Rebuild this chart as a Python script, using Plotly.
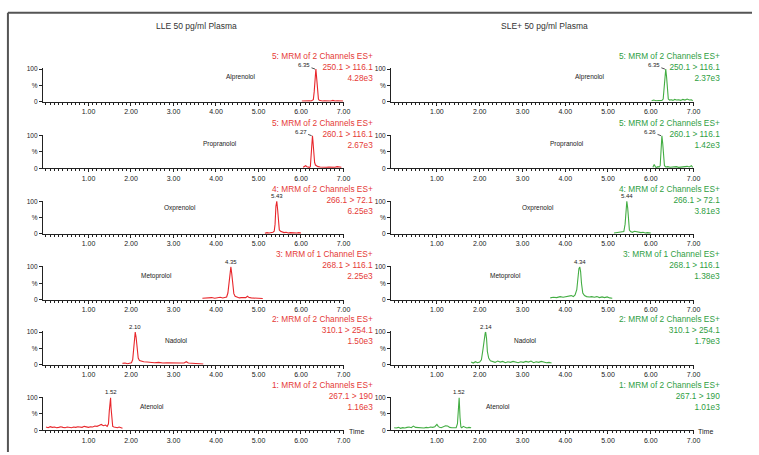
import plotly.graph_objects as go

W, H = 759, 455

# ---------------- data ----------------
compounds = ["Alprenolol", "Propranolol", "Oxprenolol", "Metoprolol", "Nadolol", "Atenolol"]
column_titles = ["LLE 50 pg/ml Plasma", "SLE+ 50 pg/ml Plasma"]
x_tick_labels = ["1.00", "2.00", "3.00", "4.00", "5.00", "6.00", "7.00"]
x_tick_values = [1, 2, 3, 4, 5, 6, 7]

mrm_functions = ["5: MRM of 2 Channels ES+", "5: MRM of 2 Channels ES+", "4: MRM of 2 Channels ES+",
                 "3: MRM of 1 Channel ES+", "2: MRM of 2 Channels ES+", "1: MRM of 2 Channels ES+"]
transitions = ["250.1 > 116.1", "260.1 > 116.1", "266.1 > 72.1", "268.1 > 116.1", "310.1 > 254.1", "267.1 > 190"]
lle_intensity = ["4.28e3", "2.67e3", "6.25e3", "2.25e3", "1.50e3", "1.16e3"]
sle_intensity = ["2.37e3", "1.42e3", "3.81e3", "1.38e3", "1.79e3", "1.01e3"]
lle_rt = ["6.35", "6.27", "5.43", "4.35", "2.10", "1.52"]
sle_rt = ["6.35", "6.26", "5.44", "4.34", "2.14", "1.52"]

# LLE traces
lle_alprenolol_t = [6.02,6.08,6.14,6.20,6.24,6.27,6.29,6.31,6.33,6.35,6.37,6.39,6.41,6.43,6.46,6.50,6.55,6.60,6.65,6.70,6.75,6.80,6.85,6.90,6.95,6.99]
lle_alprenolol_y = [2,3,2,3,2,3,6,30,80,100,70,25,8,4,3,2,3,2,3,2,4,2,3,2,3,2]
lle_propranolol_t = [6.05,6.08,6.11,6.14,6.17,6.20,6.22,6.24,6.26,6.27,6.28,6.30,6.32,6.34,6.37,6.40,6.45,6.50,6.55,6.60,6.65,6.70,6.75,6.80,6.85,6.90,6.95]
lle_propranolol_y = [3,6,8,5,3,3,5,40,92,100,85,40,18,10,7,5,4,3,4,3,4,3,4,3,5,4,3]
lle_oxprenolol_t = [5.15,5.20,5.25,5.30,5.34,5.37,5.39,5.41,5.43,5.45,5.47,5.49,5.52,5.56,5.60,5.65,5.70,5.75,5.80,5.85,5.90,5.95,6.00]
lle_oxprenolol_y = [2,4,3,4,5,8,30,85,100,75,30,12,8,5,4,5,3,4,3,4,3,4,3]
lle_metoprolol_t = [3.68,3.75,3.82,3.90,3.97,4.04,4.10,4.16,4.21,4.25,4.28,4.31,4.33,4.35,4.37,4.39,4.42,4.45,4.50,4.55,4.60,4.65,4.70,4.74,4.78,4.83,4.90,4.96,5.03,5.10]
lle_metoprolol_y = [4,5,4,6,4,5,7,5,6,8,20,65,95,100,80,45,18,10,7,5,6,5,6,10,6,5,4,5,4,3]
lle_nadolol_t = [1.80,1.86,1.92,1.97,2.01,2.04,2.07,2.09,2.10,2.12,2.14,2.17,2.20,2.25,2.30,2.38,2.46,2.55,2.65,2.75,2.85,2.95,3.05,3.15,3.25,3.30,3.35,3.45,3.55,3.65,3.70]
lle_nadolol_y = [4,5,3,5,6,15,55,92,100,85,45,20,13,10,9,8,7,6,7,5,6,5,4,5,5,9,5,4,3,3,2]
lle_atenolol_t = [0.00,0.05,0.10,0.15,0.20,0.25,0.30,0.35,0.40,0.45,0.50,0.55,0.60,0.65,0.70,0.75,0.80,0.85,0.90,0.95,1.00,1.05,1.10,1.15,1.20,1.25,1.30,1.35,1.40,1.44,1.47,1.49,1.51,1.52,1.53,1.55,1.57,1.60,1.64,1.68,1.72,1.76,1.80]
lle_atenolol_y = [10,8,11,9,10,8,9,11,9,8,10,9,8,10,9,11,10,9,12,10,9,11,10,13,12,15,18,14,16,12,20,60,95,100,70,25,12,10,9,8,10,7,6]

# SLE+ traces
sle_alprenolol_t = [6.02,6.07,6.12,6.17,6.22,6.26,6.29,6.31,6.33,6.35,6.37,6.39,6.41,6.44,6.48,6.52,6.56,6.60,6.65,6.70,6.75,6.80,6.85,6.90,6.95,6.98]
sle_alprenolol_y = [3,5,3,4,3,4,8,45,90,100,75,25,8,5,6,4,7,5,6,4,7,5,8,5,6,3]
sle_propranolol_t = [6.05,6.08,6.11,6.14,6.17,6.20,6.22,6.24,6.26,6.28,6.30,6.32,6.35,6.40,6.45,6.50,6.55,6.60,6.65,6.70,6.75,6.80,6.85,6.90,6.95,6.98]
sle_propranolol_y = [3,12,4,3,5,4,8,70,100,75,25,8,4,5,3,4,3,5,3,4,3,4,6,4,8,3]
sle_oxprenolol_t = [5.14,5.19,5.24,5.29,5.33,5.37,5.40,5.42,5.44,5.46,5.48,5.50,5.53,5.57,5.62,5.67,5.72,5.77,5.82,5.87,5.92,5.97,6.00]
sle_oxprenolol_y = [3,4,5,4,6,7,30,88,100,80,30,12,7,5,8,6,5,4,5,3,4,3,3]
sle_metoprolol_t = [3.65,3.72,3.80,3.88,3.95,4.02,4.08,4.14,4.19,4.23,4.27,4.30,4.32,4.34,4.36,4.38,4.41,4.45,4.50,4.56,4.62,4.68,4.74,4.80,4.86,4.92,4.98,5.04,5.10]
sle_metoprolol_y = [5,7,6,9,7,9,10,12,9,14,30,75,95,100,85,50,20,12,9,8,9,7,9,6,8,6,8,5,4]
sle_nadolol_t = [1.80,1.85,1.90,1.95,2.00,2.04,2.08,2.11,2.13,2.14,2.16,2.18,2.21,2.25,2.30,2.36,2.42,2.48,2.54,2.60,2.66,2.72,2.78,2.84,2.90,2.96,3.02,3.08,3.14,3.20,3.26,3.32,3.38,3.44,3.50,3.56,3.62,3.68]
sle_nadolol_y = [8,5,9,6,8,15,50,90,98,100,80,40,20,12,9,7,11,8,10,6,9,7,10,8,6,9,7,10,8,11,6,9,7,10,8,6,7,5]
sle_atenolol_t = [0.00,0.05,0.10,0.15,0.20,0.25,0.30,0.35,0.40,0.45,0.50,0.55,0.60,0.65,0.70,0.75,0.80,0.85,0.90,0.95,1.00,1.03,1.06,1.10,1.15,1.20,1.25,1.30,1.35,1.40,1.45,1.48,1.50,1.52,1.54,1.56,1.58,1.62,1.66,1.70,1.75,1.80]
sle_atenolol_y = [8,7,9,6,8,7,9,10,8,13,9,8,9,8,7,9,8,10,9,11,18,12,9,8,10,14,13,9,8,7,8,20,80,100,40,10,8,12,9,7,9,8]

lle_traces = [(lle_alprenolol_t, lle_alprenolol_y), (lle_propranolol_t, lle_propranolol_y),
              (lle_oxprenolol_t, lle_oxprenolol_y), (lle_metoprolol_t, lle_metoprolol_y),
              (lle_nadolol_t, lle_nadolol_y), (lle_atenolol_t, lle_atenolol_y)]
sle_traces = [(sle_alprenolol_t, sle_alprenolol_y), (sle_propranolol_t, sle_propranolol_y),
              (sle_oxprenolol_t, sle_oxprenolol_y), (sle_metoprolol_t, sle_metoprolol_y),
              (sle_nadolol_t, sle_nadolol_y), (sle_atenolol_t, sle_atenolol_y)]

# ---------------- layout / style ----------------
FONT = "Liberation Sans, Arial, sans-serif"
RED = "#e8262b"
GREEN = "#43ad43"
RED_TXT = "#e53a36"
GREEN_TXT = "#2f9e3f"
AXC = "#222222"

col_px = [(43.4, 346.7), (394.8, 700.0)]
baselines = [100, 167.5, 234, 300.5, 366.5, 433]
panel_h = 33.7
Y_MAX = 102

name_x = [[4.58, 4.10, 3.16, 2.60, 3.07, 2.50], [4.56, 4.03, 3.36, 2.60, 3.06, 2.43]]
name_y = [76, 76, 79, 73, 73, 73]
mrm_right_px = [378, 729]
time_px = [350, 702]
title_px = [198, 550]

fig = go.Figure()
layout = dict(
    width=W, height=H, margin=dict(l=0, r=0, t=0, b=0),
    paper_bgcolor="white", plot_bgcolor="white", showlegend=False,
    font=dict(family=FONT, color="#333"),
)
annotations = []

for c in range(2):
    traces = lle_traces if c == 0 else sle_traces
    color = RED if c == 0 else GREEN
    tcolor = RED_TXT if c == 0 else GREEN_TXT
    intens = lle_intensity if c == 0 else sle_intensity
    rts = lle_rt if c == 0 else sle_rt
    for r in range(6):
        k = c * 6 + r + 1
        xs = "x" if k == 1 else f"x{k}"
        ys = "y" if k == 1 else f"y{k}"
        xk = "xaxis" if k == 1 else f"xaxis{k}"
        yk = "yaxis" if k == 1 else f"yaxis{k}"
        t, y = traces[r]
        fig.add_trace(go.Scatter(x=t, y=y, mode="lines", xaxis=xs, yaxis=ys,
                                 line=dict(color=color, width=1.1), hoverinfo="skip"))
        b = baselines[r]
        layout[xk] = dict(
            domain=[col_px[c][0] / W, col_px[c][1] / W], range=[-0.07, 7.0], anchor=ys,
            showline=True, linecolor=AXC, linewidth=1.3, showgrid=False, zeroline=False,
            ticks="outside", ticklen=3, tickwidth=1, tickcolor=AXC,
            tickvals=x_tick_values, ticktext=x_tick_labels,
            tickfont=dict(size=7, color="#222", family=FONT),
            minor=dict(ticks="outside", dtick=0.1, tick0=0, ticklen=2, tickwidth=0.8, tickcolor=AXC),
        )
        layout[yk] = dict(
            domain=[1 - b / H, 1 - (b - panel_h) / H], range=[0, Y_MAX], anchor=xs,
            showline=True, linecolor=AXC, linewidth=1.3, showgrid=False, zeroline=False,
            ticks="outside", ticklen=3, tickwidth=1, tickcolor=AXC,
            tickvals=[0, 50, 100], ticktext=["0", "%", "100"],
            tickfont=dict(size=6.5, color="#222", family=FONT),
        )
        # compound name
        annotations.append(dict(x=name_x[c][r], y=name_y[r], xref=xs, yref=ys, text=compounds[r],
                                showarrow=False, font=dict(size=6.5, color="#222", family=FONT)))
        # MRM block (paper coordinates, right aligned)
        annotations.append(dict(x=mrm_right_px[c] / W, y=1 - (b - 53) / H, xref="paper", yref="paper",
                                xanchor="right", yanchor="top", align="right", showarrow=False,
                                text=f"{mrm_functions[r]}<br>{transitions[r]}<br>{intens[r]}",
                                font=dict(size=8.3, color=tcolor, family=FONT)))
        # peak retention time label
        rt = float(rts[r])
        if r < 2:
            annotations.append(dict(x=rt - 0.02, y=100, xref=xs, yref=ys, text=rts[r],
                                    showarrow=True, arrowhead=0, arrowwidth=0.8, arrowcolor="#222",
                                    ax=-11, ay=-4, font=dict(size=6, color="#222", family=FONT)))
        else:
            annotations.append(dict(x=rt, y=101, xref=xs, yref=ys, text=rts[r], yanchor="bottom",
                                    showarrow=False, font=dict(size=6, color="#222", family=FONT)))
        if r == 5:
            annotations.append(dict(x=time_px[c] / W, y=1 - (b + 1) / H, xref="paper", yref="paper",
                                    text="Time", xanchor="left", yanchor="middle", showarrow=False,
                                    font=dict(size=7, color="#222", family=FONT)))

# column titles
for c in range(2):
    annotations.append(dict(x=title_px[c] / W, y=1 - 23 / H, xref="paper", yref="paper",
                            xanchor="center", yanchor="middle", text=column_titles[c],
                            showarrow=False, font=dict(size=8.5, color="#333", family=FONT)))

layout["annotations"] = annotations
layout["shapes"] = [
    dict(type="line", xref="paper", yref="paper", x0=8 / W, x1=1, y0=1 - 10 / H, y1=1 - 10 / H,
         line=dict(color="#555", width=2)),
    dict(type="line", xref="paper", yref="paper", x0=8 / W, x1=8 / W, y0=1 - 10 / H, y1=0,
         line=dict(color="#555", width=2)),
]
fig.update_layout(**layout)
fig.write_html("out.html", config={"displayModeBar": False},
               post_script="document.body.style.margin='0';")
